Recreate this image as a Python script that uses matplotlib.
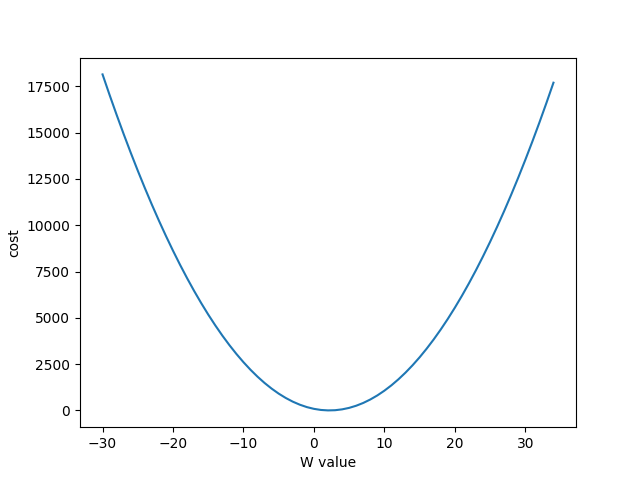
import matplotlib
matplotlib.use("Agg")
import matplotlib.pyplot as plt

# W values and the cost
w_vals = list(range(-30, 35))
cost_vals = [18145, 17035, 15961, 14921, 13917, 12947, 12013, 11113, 10249, 9419,
             8625, 7865, 7141, 6451, 5797, 5177, 4593, 4043, 3529, 3049,
             2605, 2195, 1821, 1481, 1177, 907, 673, 473, 309, 179,
             85, 25, 1, 11, 57, 137, 253, 403, 589, 809,
             1065, 1355, 1681, 2041, 2437, 2867, 3333, 3833, 4369, 4939,
             5545, 6185, 6861, 7571, 8317, 9097, 9913, 10763, 11649, 12569,
             13525, 14515, 15541, 16601, 17697]

fig = plt.figure(figsize=(6.4, 4.8), dpi=100)
plt.plot(w_vals, cost_vals)
plt.xlabel('W value')
plt.ylabel('cost')
plt.savefig('out.png')
